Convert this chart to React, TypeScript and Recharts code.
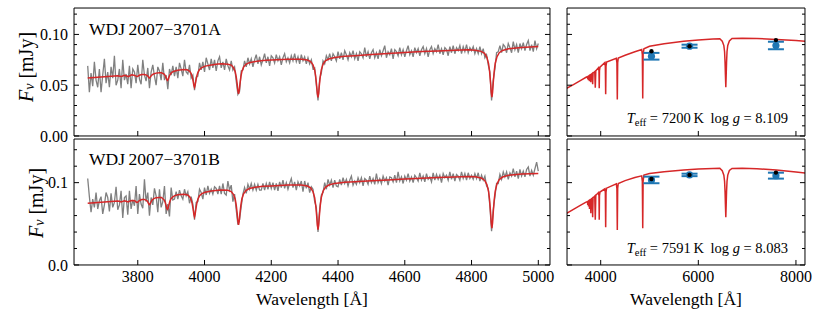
import React from "react";
import { ComposedChart, ErrorBar, Line, Scatter, XAxis, YAxis } from "recharts";

const FONT = '"Liberation Serif", "DejaVu Serif", serif';
const GREY = "#808080";
const RED = "#d62728";
const BLUE = "#1f77b4";

// observed spectra, sampled every 5 Å from 3650 Å; flux in µJy
const specStart = 3650;
const specStep = 5;

const specA = [
  69, 43, 62, 49, 73, 55, 48, 66, 43, 60, 76,
  52, 63, 48, 68, 57, 79, 50, 55, 66, 47,
  75, 55, 61, 51, 69, 47, 66, 63, 52, 70,
  56, 51, 75, 60, 54, 67, 47, 63, 70, 59,
  50, 68, 64, 55, 72, 55, 60, 46, 66, 60,
  69, 59, 68, 57, 72, 66, 59, 75, 63, 61,
  70, 57, 60, 45, 58, 59, 72, 65, 73, 63,
  77, 71, 65, 76, 67, 75, 64, 74, 78, 67,
  73, 65, 76, 69, 65, 74, 65, 68, 54, 41,
  44, 64, 65, 74, 68, 77, 71, 76, 68, 75,
  80, 71, 78, 70, 75, 81, 72, 78, 69, 79,
  77, 72, 80, 74, 78, 70, 77, 81, 73, 77,
  72, 79, 74, 81, 73, 78, 71, 80, 74, 78,
  71, 77, 71, 75, 66, 67, 50, 35, 56, 62,
  74, 71, 79, 75, 81, 74, 81, 78, 74, 83,
  76, 82, 75, 84, 80, 75, 82, 78, 84, 76,
  81, 74, 83, 81, 77, 87, 78, 83, 76, 82,
  85, 77, 82, 76, 85, 79, 84, 89, 77, 83,
  80, 86, 76, 85, 83, 79, 87, 80, 85, 78,
  84, 89, 80, 84, 78, 87, 82, 86, 79, 85,
  88, 81, 86, 78, 85, 88, 81, 86, 83, 90,
  81, 86, 80, 87, 85, 79, 88, 82, 89, 81,
  87, 84, 89, 81, 88, 83, 90, 82, 87, 84,
  88, 81, 86, 81, 88, 81, 86, 77, 80, 70,
  63, 35, 55, 66, 82, 83, 89, 82, 90, 88,
  82, 91, 87, 82, 93, 85, 90, 82, 91, 86,
  92, 84, 90, 94, 84, 90, 83, 94, 86, 91,
];

const specB = [
  105, 83, 64, 80, 70, 88, 68, 78, 83, 62, 73,
  88, 82, 65, 87, 70, 76, 95, 67, 73, 90,
  57, 82, 84, 61, 90, 68, 79, 72, 96, 62,
  86, 74, 69, 104, 77, 88, 60, 82, 73, 93,
  84, 64, 92, 70, 77, 96, 62, 74, 59, 94,
  79, 80, 89, 80, 91, 84, 80, 92, 84, 89,
  75, 83, 74, 55, 76, 77, 92, 88, 80, 94,
  85, 96, 87, 92, 86, 95, 93, 86, 96, 86,
  99, 87, 85, 102, 91, 97, 77, 86, 67, 49,
  55, 71, 86, 94, 87, 98, 92, 99, 91, 98,
  91, 98, 91, 91, 99, 91, 99, 92, 101, 93,
  100, 91, 99, 90, 101, 94, 103, 93, 100, 92,
  99, 105, 94, 101, 91, 101, 96, 102, 89, 102,
  93, 100, 88, 95, 92, 77, 70, 40, 68, 85,
  88, 100, 92, 104, 97, 103, 94, 103, 96, 95,
  104, 97, 106, 99, 104, 96, 103, 108, 97, 102,
  98, 106, 100, 106, 96, 105, 103, 98, 108, 100,
  105, 98, 111, 100, 105, 99, 108, 102, 106, 97,
  107, 106, 101, 109, 100, 113, 102, 107, 99, 108,
  103, 111, 102, 107, 100, 109, 106, 102, 112, 103,
  108, 101, 111, 104, 107, 101, 112, 103, 110, 104,
  109, 100, 111, 106, 109, 103, 113, 104, 111, 102,
  110, 108, 103, 113, 105, 111, 103, 112, 105, 109,
  104, 111, 105, 112, 102, 109, 103, 108, 96, 93,
  71, 41, 67, 83, 99, 99, 110, 104, 113, 107,
  113, 104, 112, 108, 117, 107, 114, 105, 116, 108,
  114, 107, 116, 119, 108, 115, 109, 117, 125, 114,
];

// model spectra [wavelength Å, flux µJy]
const modelA: [number, number][] = [
  [3650, 57.0], [3700, 58.3], [3740, 59.3], [3747, 58.9], [3750, 58.6], [3753, 58.9],
  [3760, 59.7], [3767, 59.0], [3771, 58.5], [3775, 59.1], [3782, 60.2], [3791, 59.6],
  [3796, 58.7], [3798, 58.5], [3800, 58.8], [3805, 59.8], [3812, 60.5], [3820, 60.5],
  [3828, 59.7], [3831, 58.5], [3833, 57.6], [3835, 57.1], [3837, 57.7], [3839, 58.7],
  [3842, 60.0], [3847, 61.0], [3855, 61.9], [3865, 62.3], [3871, 62.2], [3879, 60.9],
  [3882, 59.4], [3885, 57.3], [3887, 55.5], [3889, 54.6], [3891, 55.6], [3893, 57.6],
  [3896, 60.0], [3899, 61.6], [3904, 63.1], [3911, 64.0], [3920, 64.8], [3938, 65.4],
  [3948, 65.2], [3955, 63.9], [3960, 61.5], [3963, 58.5], [3966, 53.8], [3968, 49.9],
  [3970, 48.0], [3972, 50.1], [3974, 54.2], [3977, 59.2], [3980, 62.5], [3985, 65.4],
  [3992, 67.4], [4002, 68.8], [4020, 70.0], [4040, 70.9], [4052, 71.2], [4070, 70.7],
  [4080, 69.8], [4087, 67.2], [4092, 63.2], [4095, 58.3], [4098, 50.8], [4100, 44.5],
  [4102, 41.4], [4104, 44.6], [4106, 50.9], [4109, 58.5], [4112, 63.6], [4117, 67.8],
  [4124, 70.6], [4134, 72.2], [4152, 73.4], [4175, 74.3], [4200, 74.7], [4250, 75.5],
  [4290, 75.6], [4308, 74.8], [4318, 73.2], [4325, 70.1], [4330, 65.0], [4333, 58.9],
  [4336, 49.5], [4338, 41.8], [4340, 37.9], [4342, 41.8], [4344, 49.7], [4347, 59.1],
  [4350, 65.4], [4355, 70.5], [4362, 73.9], [4372, 75.8], [4390, 77.3], [4420, 78.4],
  [4450, 79.0], [4500, 80.2], [4550, 81.3], [4600, 82.3], [4650, 83.1], [4700, 83.8],
  [4750, 84.4], [4790, 84.9], [4811, 84.4], [4829, 83.3], [4839, 81.4], [4846, 77.4],
  [4851, 71.3], [4854, 63.8], [4857, 52.4], [4859, 42.9], [4861, 38.2], [4863, 43.0],
  [4865, 52.5], [4868, 64.0], [4871, 71.6], [4876, 77.8], [4883, 82.0], [4893, 84.2],
  [4911, 85.9], [4950, 87.2], [5000, 88.0],
];

const modelB: [number, number][] = [
  [3650, 75.0], [3700, 76.5], [3740, 77.7], [3747, 77.0], [3750, 76.5], [3753, 77.0],
  [3760, 78.1], [3767, 77.1], [3771, 76.5], [3775, 77.5], [3782, 78.3], [3791, 78.0],
  [3796, 76.2], [3798, 75.9], [3800, 76.4], [3805, 78.3], [3812, 79.5], [3820, 79.6],
  [3828, 77.8], [3831, 75.8], [3833, 74.1], [3835, 73.3], [3837, 74.3], [3839, 76.2],
  [3842, 78.5], [3847, 80.3], [3855, 81.8], [3865, 82.1], [3871, 81.9], [3879, 79.1],
  [3882, 76.4], [3885, 72.2], [3887, 68.7], [3889, 67.5], [3891, 68.9], [3893, 72.6],
  [3896, 77.0], [3899, 80.1], [3904, 82.4], [3911, 84.3], [3920, 85.3], [3938, 86.0],
  [3948, 85.4], [3955, 83.1], [3960, 79.3], [3963, 74.6], [3966, 67.5], [3968, 61.6],
  [3970, 58.6], [3972, 61.7], [3974, 67.7], [3977, 75.0], [3980, 79.9], [3985, 84.0],
  [3992, 86.7], [4002, 88.4], [4020, 89.9], [4040, 90.8], [4052, 91.0], [4070, 90.8],
  [4080, 89.1], [4087, 85.5], [4092, 79.8], [4095, 72.7], [4098, 62.0], [4100, 53.0],
  [4102, 48.6], [4104, 53.2], [4106, 62.2], [4109, 73.1], [4112, 80.4], [4117, 86.5],
  [4124, 90.5], [4134, 92.8], [4152, 94.4], [4175, 95.5], [4200, 96.0], [4250, 97.0],
  [4290, 97.1], [4308, 95.9], [4318, 93.6], [4325, 89.0], [4330, 81.8], [4333, 72.9],
  [4336, 59.5], [4338, 48.4], [4340, 42.8], [4342, 48.4], [4344, 59.7], [4347, 73.1],
  [4350, 82.2], [4355, 89.6], [4362, 94.4], [4372, 97.1], [4390, 99.1], [4420, 100.5],
  [4450, 101.2], [4500, 102.3], [4550, 103.3], [4600, 104.3], [4650, 105.2], [4700, 106.2],
  [4750, 107.0], [4790, 107.6], [4811, 107.1], [4829, 105.6], [4839, 103.0], [4846, 97.6],
  [4851, 89.4], [4854, 79.3], [4857, 63.9], [4859, 51.2], [4861, 44.8], [4863, 51.2],
  [4865, 64.1], [4868, 79.5], [4871, 89.8], [4876, 98.2], [4883, 103.8], [4893, 106.8],
  [4911, 108.9], [4950, 110.4], [5000, 111.0],
];

// model SEDs [wavelength Å, flux µJy]
const sedA: [number, number][] = [
  [3300, 46.8], [3450, 50.8], [3600, 55.0], [3700, 57.8], [3730, 58.4], [3734, 56.0],
  [3738, 58.5], [3746, 58.8], [3750, 55.0], [3754, 58.9], [3766, 59.4], [3771, 54.0],
  [3776, 59.6], [3792, 60.2], [3798, 53.0], [3804, 60.5], [3826, 61.5], [3835, 51.0],
  [3844, 62.0], [3878, 63.4], [3889, 47.5], [3900, 64.2], [3955, 67.2], [3965, 64.0],
  [3970, 47.0], [3975, 64.3], [3985, 67.8], [4085, 72.3], [4095, 68.5], [4102, 41.0],
  [4109, 68.8], [4120, 72.8], [4320, 76.4], [4332, 72.0], [4340, 36.0], [4348, 72.3],
  [4360, 76.8], [4500, 79.5], [4700, 83.0], [4840, 85.2], [4853, 80.0], [4861, 37.0],
  [4869, 80.3], [4885, 85.8], [5000, 88.3], [5300, 90.8], [5700, 93.2], [6000, 94.4],
  [6300, 95.5], [6440, 95.8], [6490, 93.4], [6523, 89.0], [6538, 83.0], [6548, 72.0],
  [6555, 60.0], [6563, 48.0], [6571, 60.2], [6578, 72.2], [6588, 83.2], [6603, 89.2],
  [6636, 93.6], [6690, 96.0], [6900, 96.3], [7200, 96.0], [7600, 95.0], [8000, 94.0],
  [8200, 93.3],
];

const sedB: [number, number][] = [
  [3300, 62.8], [3450, 67.9], [3600, 72.9], [3700, 76.3], [3730, 77.0], [3734, 73.0],
  [3738, 77.2], [3746, 77.6], [3750, 71.0], [3754, 77.8], [3766, 78.4], [3771, 68.0],
  [3776, 78.6], [3792, 79.4], [3798, 63.0], [3804, 79.8], [3826, 81.0], [3835, 58.0],
  [3844, 81.7], [3878, 83.8], [3889, 55.0], [3900, 84.6], [3955, 88.0], [3965, 84.0],
  [3970, 55.0], [3975, 84.3], [3985, 88.6], [4085, 92.5], [4095, 88.0], [4102, 45.8],
  [4109, 88.5], [4120, 93.3], [4320, 98.5], [4332, 93.0], [4340, 42.5], [4348, 93.3],
  [4360, 99.0], [4500, 102.5], [4700, 106.2], [4840, 108.3], [4853, 101.5], [4861, 44.6],
  [4869, 101.8], [4885, 109.3], [5000, 111.0], [5300, 113.3], [5700, 115.4], [6000, 116.5],
  [6300, 117.3], [6440, 117.5], [6490, 114.5], [6523, 109.0], [6538, 101.5], [6548, 88.5],
  [6555, 73.5], [6563, 58.0], [6571, 73.7], [6578, 88.7], [6588, 101.7], [6603, 109.2],
  [6636, 114.8], [6690, 117.3], [6900, 117.5], [7200, 116.8], [7600, 115.4], [8000, 113.0],
  [8200, 111.5],
];

// photometry (µJy): measured with errors, and synthetic from the model
const photWl = [5040, 5820, 7590];
const photA = [78.5, 88.4, 89.1];
const photAErr = [3.3, 1.5, 3.7];
const synthA = [83.5, 88.4, 94.4];
const photB = [103.3, 109.4, 108.5];
const photBErr = [4.0, 1.5, 3.6];
const synthB = [104.5, 109.4, 112.2];

// axis ticks
const specTicks = [3800, 4000, 4200, 4400, 4600, 4800, 5000];
const specMinor = [3650, 3700, 3750, 3850, 3900, 3950, 4050, 4100, 4150, 4250, 4300, 4350, 4450, 4500, 4550, 4650, 4700, 4750, 4850, 4900, 4950];
const sedTicks = [4000, 6000, 8000];
const sedMinor = [3500, 4500, 5000, 5500, 6500, 7000, 7500];
const yTicksA = [0, 0.05, 0.1];
const yMinorA = [0.01, 0.02, 0.03, 0.04, 0.06, 0.07, 0.08, 0.09, 0.11, 0.12];
const yTicksB = [0, 0.1];
const yMinorB = [0.02, 0.04, 0.06, 0.08, 0.12, 0.14];

const toMJy = (v: number) => v / 1000;
const specTable = (vals: number[]) => vals.map((v, i) => ({ wl: specStart + i * specStep, f: toMJy(v) }));
const pairTable = (pts: [number, number][]) => pts.map(([wl, v]) => ({ wl, f: toMJy(v) }));
const photTable = (vals: number[], errs: number[]) => photWl.map((wl, i) => ({ wl, f: toMJy(vals[i]), err: toMJy(errs[i]) }));
const synthTable = (vals: number[]) => photWl.map((wl, i) => ({ wl, f: toMJy(vals[i]) }));

const noLabel = () => <g />;
const blueDot = (p: any) => <circle cx={p.cx} cy={p.cy} r={3.6} fill={BLUE} />;
const blackDot = (p: any) => <circle cx={p.cx} cy={p.cy} r={2.2} fill="#000" />;

// tick labels drawn at the positions recharts hands over
const xTickLabel = (p: any) => (
  <text x={p.x} y={p.y} dy="0.71em" textAnchor="middle" fontSize={16} fontFamily={FONT} fill="#000">
    {String(p.payload.value)}
  </text>
);
const yTickLabel = (digits: number) => (p: any) => (
  <text x={p.x} y={p.y} dy="0.35em" textAnchor="end" fontSize={16} fontFamily={FONT} fill="#000">
    {Number(p.payload.value).toFixed(digits)}
  </text>
);

// axes are stacked with (almost) no thickness so all of them sit on the frame
const THIN = 0.01;

type PanelProps = {
  left: number;
  top: number;
  width: number;
  height: number;
  margin: { top: number; right: number; bottom: number; left: number };
  xDomain: [number, number];
  xTicks: number[];
  xMinor: number[];
  xLabels: boolean;
  yDomain: [number, number];
  yTicks: number[];
  yMinor: number[];
  yDigits?: number;
  children: React.ReactNode;
};

function Panel(p: PanelProps) {
  const common = { type: "number" as const, allowDataOverflow: true, interval: 0 as const, stroke: "#000" };
  return (
    <div style={{ position: "absolute", left: p.left, top: p.top }}>
      <ComposedChart width={p.width} height={p.height} margin={p.margin}>
        <XAxis xAxisId="x" dataKey="wl" {...common} domain={p.xDomain} ticks={p.xTicks} height={THIN} tickSize={-5} tickMargin={11} tick={p.xLabels ? xTickLabel : noLabel} />
        <XAxis xAxisId="xm" {...common} domain={p.xDomain} ticks={p.xMinor} height={THIN} tickSize={-3} axisLine={false} tick={noLabel} />
        <XAxis xAxisId="xt" orientation="top" {...common} domain={p.xDomain} ticks={p.xTicks} height={THIN} tickSize={-5} tick={noLabel} />
        <XAxis xAxisId="xtm" orientation="top" {...common} domain={p.xDomain} ticks={p.xMinor} height={THIN} tickSize={-3} axisLine={false} tick={noLabel} />
        <YAxis yAxisId="y" dataKey="f" {...common} domain={p.yDomain} ticks={p.yTicks} width={THIN} tickSize={-5} tickMargin={11} tick={p.yDigits !== undefined ? yTickLabel(p.yDigits) : noLabel} />
        <YAxis yAxisId="ym" {...common} domain={p.yDomain} ticks={p.yMinor} width={THIN} tickSize={-3} axisLine={false} tick={noLabel} />
        <YAxis yAxisId="yr" orientation="right" {...common} domain={p.yDomain} ticks={p.yTicks} width={THIN} tickSize={-5} tick={noLabel} />
        <YAxis yAxisId="yrm" orientation="right" {...common} domain={p.yDomain} ticks={p.yMinor} width={THIN} tickSize={-3} axisLine={false} tick={noLabel} />
        {p.children}
      </ComposedChart>
    </div>
  );
}

function TeffLabel({ y, teff, logg }: { y: number; teff: string; logg: string }) {
  return (
    <text x={788} y={y} textAnchor="end" fontSize={14.5}>
      <tspan fontStyle="italic">T</tspan>
      <tspan fontSize={10.5} dy={3}>eff</tspan>
      <tspan dy={-3}>{` = ${teff}\u2009K \u2009log `}</tspan>
      <tspan fontStyle="italic">g</tspan>
      <tspan>{` = ${logg}`}</tspan>
    </text>
  );
}

function FnuLabel({ x, y }: { x: number; y: number }) {
  return (
    <text transform={`translate(${x},${y}) rotate(-90)`} textAnchor="middle" dominantBaseline="central" fontSize={20}>
      <tspan fontStyle="italic">F</tspan>
      <tspan fontStyle="italic" fontSize={14} dy={3}>ν</tspan>
      <tspan dy={-3}>{" [mJy]"}</tspan>
    </text>
  );
}

const series = (spec: number[], model: [number, number][]) => [
  <Line key="obs" xAxisId="x" yAxisId="y" data={specTable(spec)} dataKey="f" type="linear" dot={false} stroke={GREY} strokeWidth={1.3} isAnimationActive={false} />,
  <Line key="mod" xAxisId="x" yAxisId="y" data={pairTable(model)} dataKey="f" type="linear" dot={false} stroke={RED} strokeWidth={1.5} isAnimationActive={false} />,
];

const sedSeries = (sed: [number, number][], phot: number[], err: number[], synth: number[]) => [
  <Line key="sed" xAxisId="x" yAxisId="y" data={pairTable(sed)} dataKey="f" type="linear" dot={false} stroke={RED} strokeWidth={1.5} isAnimationActive={false} />,
  <Scatter key="phot" xAxisId="x" yAxisId="y" data={photTable(phot, err)} dataKey="f" shape={blueDot} isAnimationActive={false}>
    <ErrorBar dataKey="err" direction="y" width={8} strokeWidth={2} stroke={BLUE} />
  </Scatter>,
  <Scatter key="synth" xAxisId="x" yAxisId="y" data={synthTable(synth)} dataKey="f" shape={blackDot} isAnimationActive={false} />,
];

export default function App() {
  const specDomain: [number, number] = [3609, 5035];
  const sedDomain: [number, number] = [3310, 8185];
  const yA: [number, number] = [0, 0.126];
  const yB: [number, number] = [0, 0.153];
  const topMargin = { top: 8, right: 5, bottom: 14, left: 74 };
  const botMargin = { top: 8, right: 5, bottom: 47, left: 74 };
  const topMarginR = { top: 8, right: 10, bottom: 14, left: 12 };
  const botMarginR = { top: 8, right: 10, bottom: 47, left: 12 };

  return (
    <div style={{ position: "absolute", left: 0, top: 0, width: 830, height: 312, background: "#fff", fontFamily: FONT }}>
      <Panel left={0} top={0} width={555} height={150} margin={topMargin} xDomain={specDomain} xTicks={specTicks} xMinor={specMinor} xLabels={false} yDomain={yA} yTicks={yTicksA} yMinor={yMinorA} yDigits={2}>
        {series(specA, modelA)}
      </Panel>
      <Panel left={0} top={131} width={555} height={181} margin={botMargin} xDomain={specDomain} xTicks={specTicks} xMinor={specMinor} xLabels yDomain={yB} yTicks={yTicksB} yMinor={yMinorB} yDigits={1}>
        {series(specB, modelB)}
      </Panel>
      <Panel left={555} top={0} width={260} height={150} margin={topMarginR} xDomain={sedDomain} xTicks={sedTicks} xMinor={sedMinor} xLabels={false} yDomain={yA} yTicks={yTicksA} yMinor={yMinorA}>
        {sedSeries(sedA, photA, photAErr, synthA)}
      </Panel>
      <Panel left={555} top={131} width={260} height={181} margin={botMarginR} xDomain={sedDomain} xTicks={sedTicks} xMinor={sedMinor} xLabels yDomain={yB} yTicks={yTicksB} yMinor={yMinorB}>
        {sedSeries(sedB, photB, photBErr, synthB)}
      </Panel>

      <svg width={830} height={312} style={{ position: "absolute", left: 0, top: 0, pointerEvents: "none" }} fontFamily={FONT} fill="#000">
        <text x={89} y={35} fontSize={17.5}>{"WDJ\u20092007\u22123701A"}</text>
        <text x={89} y={165} fontSize={17.5}>{"WDJ\u20092007\u22123701B"}</text>
        <TeffLabel y={123} teff="7200" logg="8.109" />
        <TeffLabel y={253} teff="7591" logg="8.083" />
        <text x={312} y={305} fontSize={17.5} textAnchor="middle">Wavelength [Å]</text>
        <text x={686} y={305} fontSize={17.5} textAnchor="middle">Wavelength [Å]</text>
        <FnuLabel x={26} y={67} />
        <FnuLabel x={35.5} y={203} />
      </svg>
    </div>
  );
}
